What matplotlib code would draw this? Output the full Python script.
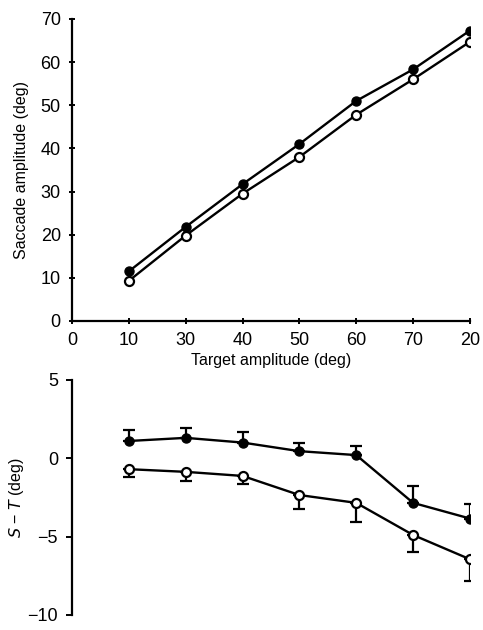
import matplotlib
matplotlib.use("Agg")
import matplotlib.pyplot as plt
import numpy as np

plt.rcParams['font.family'] = ['Liberation Sans', 'DejaVu Sans']

# tick labels as printed in the original figure (last one reads "20")
x_labels = ["0", "10", "30", "40", "50", "60", "70", "20"]
x_pos = [1, 2, 3, 4, 5, 6, 7]

# top panel: saccade amplitude
sacc_filled = [11.5, 21.8, 31.7, 41.0, 51.0, 58.3, 67.3]
sacc_open = [9.3, 19.8, 29.5, 38.0, 47.8, 56.0, 64.7]

# bottom panel: S - T with error bars
st_filled = [1.1, 1.3, 1.0, 0.45, 0.2, -2.85, -3.85]
st_filled_err = [0.7, 0.65, 0.7, 0.5, 0.6, 1.05, 0.95]
st_open = [-0.7, -0.87, -1.13, -2.35, -2.85, -4.9, -6.45]
st_open_err = [0.5, 0.6, 0.5, 0.9, 1.2, 1.1, 1.4]

fig = plt.figure(figsize=(4.83, 6.3), dpi=100)
ax1 = fig.add_axes([0.149, 0.4905, 0.824, 0.4795])
ax2 = fig.add_axes([0.149, 0.024, 0.824, 0.373])

# top panel
ax1.plot(x_pos, sacc_filled, '-o', color='black', mfc='black', mec='black',
         markersize=6.5, linewidth=1.7, zorder=3)
ax1.plot(x_pos, sacc_open, '-o', color='black', mfc='white', mec='black',
         markersize=6.5, mew=1.6, linewidth=1.7, zorder=3)
ax1.set_xlim(0, 7)
ax1.set_ylim(0, 70)
ax1.set_xticks(range(8))
ax1.set_xticklabels(x_labels)
ax1.set_yticks(range(0, 71, 10))
ax1.set_xlabel('Target amplitude (deg)', fontsize=11.5, labelpad=3)
ax1.set_ylabel('Saccade amplitude (deg)', fontsize=11.5, labelpad=8)
for s in ['top', 'right']:
    ax1.spines[s].set_visible(False)
for s in ['left', 'bottom']:
    ax1.spines[s].set_linewidth(1.6)
ax1.tick_params(labelsize=13, width=1.4, length=4, direction='inout', pad=6)

# bottom panel
ax2.errorbar(x_pos, st_filled, yerr=[np.zeros(len(st_filled_err)), st_filled_err],
             fmt='-o', color='black', mfc='black', mec='black', markersize=6.5,
             linewidth=1.7, elinewidth=1.6, capsize=4, capthick=1.6, zorder=3)
ax2.errorbar(x_pos, st_open, yerr=[st_open_err, np.zeros(len(st_open_err))],
             fmt='-o', color='black', mfc='white', mec='black', markersize=6.5,
             mew=1.6, linewidth=1.7, elinewidth=1.6, capsize=4, capthick=1.6, zorder=3)
ax2.set_xlim(0, 7)
ax2.set_ylim(-10, 5)
ax2.set_yticks([5, 0, -5, -10])
ax2.set_yticklabels(['5', '0', '\u22125', '\u221210'])
ax2.set_xticks([])
ax2.set_ylabel('$S$ \u2212 $T$ (deg)', fontsize=11.5, labelpad=1)
for s in ['top', 'right', 'bottom']:
    ax2.spines[s].set_visible(False)
ax2.spines['left'].set_linewidth(1.6)
ax2.tick_params(labelsize=13, width=1.4, length=4, direction='out', pad=6)

fig.savefig('out.png', dpi=100)
